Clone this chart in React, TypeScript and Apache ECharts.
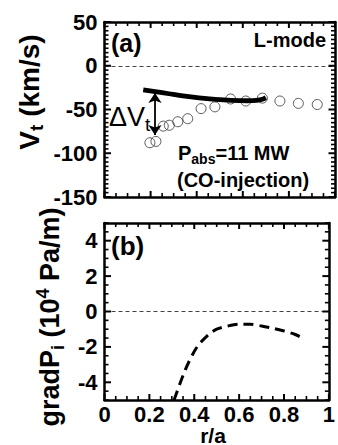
import React, { useEffect, useRef } from "react";
import * as echarts from "echarts";

// Panel (a): measured toroidal rotation (open circles) and the solid reference profile
const rMeasured = [0.197, 0.223, 0.255, 0.281, 0.318, 0.361, 0.419, 0.479, 0.547, 0.613, 0.685, 0.761, 0.841, 0.923];
const vtMeasured = [-88, -86.5, -69, -68, -64, -60.5, -49, -47, -38, -40.3, -37, -40.3, -43, -44.3];
const rSolid = [0.168, 0.22, 0.28, 0.34, 0.41, 0.48, 0.55, 0.62, 0.66, 0.685, 0.7];
const vtSolid = [-27.5, -29.5, -32, -34.5, -36.8, -38.5, -39.6, -40, -39.5, -38.3, -36.5];
// Delta V_t arrow between the solid profile and the inner data point
const arrowR = 0.219;
const arrowTop = -31;
const arrowBottom = -79;

// Panel (b): ion pressure gradient profile
const rGrad = [0.31, 0.36, 0.41, 0.46, 0.5, 0.55, 0.6, 0.65, 0.7, 0.75, 0.8, 0.85, 0.89];
const gradPi = [-5.0, -3.3, -2.05, -1.35, -1.0, -0.82, -0.72, -0.72, -0.82, -0.95, -1.1, -1.3, -1.55];

// Axis ranges and tick spacing (major / minor)
const R_MIN = 0, R_MAX = 1, R_MAJOR = 0.2, R_MINOR = 0.05;
const VT_MIN = -150, VT_MAX = 50, VT_MAJOR = 50, VT_MINOR = 5;
const GP_MIN = -5, GP_MAX = 5, GP_MAJOR = 2, GP_MINOR = 0.5;

const FONT = "Liberation Sans, Arial, Helvetica, sans-serif";

// list of [value, isMajor] for the mirrored frame ticks
function tickList(min: number, max: number, minor: number, major: number, origin: number) {
  const out: number[][] = [];
  const n = Math.round((max - min) / minor);
  for (let i = 0; i <= n; i++) {
    const v = +(min + i * minor).toFixed(6);
    const k = (v - origin) / major;
    out.push([v, Math.abs(k - Math.round(k)) < 1e-6 ? 1 : 0]);
  }
  return out;
}

export default function App() {
  const ref = useRef<HTMLDivElement>(null);

  useEffect(() => {
    document.body.style.margin = "0";
    if (!ref.current) return;
    const chart = echarts.init(ref.current, undefined, { renderer: "svg" });

    const frame = () => ({ show: true, onZero: false, lineStyle: { color: "#000", width: 2.5 } });
    const tickLabel = () => ({
      fontFamily: FONT,
      fontWeight: "bold" as const,
      fontSize: 22,
      lineHeight: 20,
      color: "#000",
    });

    const xAxisFor = (grid: number, pos: "top" | "bottom", labels: boolean) => ({
      type: "value" as const,
      gridIndex: grid,
      position: pos,
      min: R_MIN,
      max: R_MAX,
      interval: R_MAJOR,
      axisLine: frame(),
      splitLine: { show: false },
      axisTick: { show: false },
      axisLabel: labels ? { ...tickLabel(), margin: 4, formatter: (v: number) => String(v) } : { show: false },
    });

    const yAxisFor = (
      grid: number,
      pos: "left" | "right",
      labels: boolean,
      min: number,
      max: number,
      interval: number,
      labelStep: number
    ) => ({
      type: "value" as const,
      gridIndex: grid,
      position: pos,
      min,
      max,
      interval,
      axisLine: frame(),
      splitLine: { show: false },
      axisTick: { show: false },
      axisLabel: labels
        ? {
            ...tickLabel(),
            margin: 7,
            formatter: (v: number) => (Math.abs(v / labelStep - Math.round(v / labelStep)) < 1e-6 ? String(v) : ""),
          }
        : { show: false },
    });

    const zeroLine = () => ({
      silent: true,
      symbol: ["none", "none"],
      label: { show: false },
      lineStyle: { color: "#444", width: 1, type: [4, 3] as number[] },
      data: [{ yAxis: 0 }],
    });

    const rich = (main: number, sub: number, weight: "bold" | "normal") => ({
      m: { fontFamily: FONT, fontWeight: weight, fontSize: main, lineHeight: main + 6, fill: "#000" },
      s: {
        fontFamily: FONT,
        fontWeight: weight,
        fontSize: sub,
        lineHeight: sub,
        padding: [main + 6 - sub, 0, 0, 0],
        fill: "#000",
      },
      p: {
        fontFamily: FONT,
        fontWeight: weight,
        fontSize: sub,
        lineHeight: sub,
        padding: [0, 0, main + 6 - sub, 0],
        fill: "#000",
      },
    });

    const texts: any[] = [
      {
        type: "text",
        x: 29,
        y: 92,
        rotation: Math.PI / 2,
        style: { text: "{m|V}{s|t}{m| (km/s)}", rich: rich(28, 19, "bold"), align: "center", verticalAlign: "middle" },
      },
      {
        type: "text",
        x: 50,
        y: 317,
        rotation: Math.PI / 2,
        style: {
          text: "{m|gradP}{s|i}{m| (10}{p|4}{m| Pa/m)}",
          rich: rich(27, 18, "bold"),
          align: "center",
          verticalAlign: "middle",
        },
      },
      { type: "text", x: 111, y: 43, style: { text: "(a)", font: `bold 25px ${FONT}`, fill: "#000", verticalAlign: "middle" } },
      { type: "text", x: 111, y: 246, style: { text: "(b)", font: `bold 26px ${FONT}`, fill: "#000", verticalAlign: "middle" } },
      {
        type: "text",
        x: 326,
        y: 40,
        style: { text: "L-mode", font: `bold 20px ${FONT}`, fill: "#000", align: "right", verticalAlign: "middle" },
      },
      { type: "text", x: 109, y: 117, style: { text: "{m|ΔV}{s|t}", rich: rich(27, 19, "normal"), verticalAlign: "middle" } },
      {
        type: "text",
        x: 178,
        y: 153,
        style: { text: "{m|P}{s|abs}{m|=11 MW}", rich: rich(20, 14, "bold"), verticalAlign: "middle" },
      },
      {
        type: "text",
        x: 177,
        y: 180,
        style: { text: "(CO-injection)", font: `bold 20px ${FONT}`, fill: "#000", verticalAlign: "middle" },
      },
      {
        type: "text",
        x: 213,
        y: 435,
        style: { text: "r/a", font: `bold 21px ${FONT}`, lineHeight: 20, fill: "#000", align: "center", verticalAlign: "middle" },
      },
    ];

    chart.setOption({
      animation: false,
      grid: [
        { left: 104.5, top: 22, width: 230.5, height: 175 },
        { left: 104.5, top: 223, width: 230.5, height: 177 },
      ],
      xAxis: [xAxisFor(0, "bottom", false), xAxisFor(0, "top", false), xAxisFor(1, "bottom", true), xAxisFor(1, "top", false)],
      yAxis: [
        yAxisFor(0, "left", true, VT_MIN, VT_MAX, VT_MAJOR, VT_MAJOR),
        yAxisFor(0, "right", false, VT_MIN, VT_MAX, VT_MAJOR, VT_MAJOR),
        yAxisFor(1, "left", true, GP_MIN, GP_MAX, 1, GP_MAJOR),
        yAxisFor(1, "right", false, GP_MIN, GP_MAX, 1, GP_MAJOR),
      ],
      series: [
        {
          type: "line",
          xAxisIndex: 0,
          yAxisIndex: 0,
          data: rSolid.map((r, i) => [r, vtSolid[i]]),
          smooth: 0.3,
          showSymbol: false,
          lineStyle: { color: "#000", width: 4.8 },
          markLine: zeroLine(),
        },
        {
          type: "scatter",
          xAxisIndex: 0,
          yAxisIndex: 0,
          data: rMeasured.map((r, i) => [r, vtMeasured[i]]),
          symbol: "circle",
          symbolSize: 10,
          itemStyle: { color: "rgba(255,255,255,0)", borderColor: "#333", borderWidth: 1 },
          markLine: {
            silent: true,
            symbol: ["arrow", "arrow"],
            symbolSize: 10,
            label: { show: false },
            lineStyle: { color: "#000", width: 1.8, type: "solid" },
            data: [[{ coord: [arrowR, arrowTop] }, { coord: [arrowR, arrowBottom] }]],
          },
        },
        {
          type: "line",
          xAxisIndex: 2,
          yAxisIndex: 2,
          data: rGrad.map((r, i) => [r, gradPi[i]]),
          smooth: 0.3,
          showSymbol: false,
          lineStyle: { color: "#000", width: 3, type: [10, 6] },
          markLine: zeroLine(),
        },
      ],
    });

    // Inward frame ticks on all four edges, placed through the axes' own scales
    const ticks: any[] = [];
    const bar = (x: number, y: number, w: number, h: number) => ({
      type: "rect",
      silent: true,
      z: 100,
      shape: { x, y, width: w, height: h },
      style: { fill: "#000" },
    });
    const panels = [
      { xi: 0, yi: 0, yMin: VT_MIN, yMax: VT_MAX, yMinor: VT_MINOR, yMajor: VT_MAJOR },
      { xi: 2, yi: 2, yMin: GP_MIN, yMax: GP_MAX, yMinor: GP_MINOR, yMajor: GP_MAJOR },
    ];
    panels.forEach((p) => {
      const finder = { xAxisIndex: p.xi, yAxisIndex: p.yi };
      tickList(R_MIN, R_MAX, R_MINOR, R_MAJOR, R_MIN).forEach(([v, m]) => {
        const len = m ? 6 : 4;
        const w = m ? 2 : 1.6;
        const b = chart.convertToPixel(finder, [v, p.yMin]) as number[];
        const t = chart.convertToPixel(finder, [v, p.yMax]) as number[];
        ticks.push(bar(b[0] - w / 2, b[1] - len, w, len));
        ticks.push(bar(t[0] - w / 2, t[1], w, len));
      });
      tickList(p.yMin, p.yMax, p.yMinor, p.yMajor, 0).forEach(([v, m]) => {
        const len = m ? 6.5 : 4;
        const w = m ? 2 : 1.6;
        const l = chart.convertToPixel(finder, [R_MIN, v]) as number[];
        const r = chart.convertToPixel(finder, [R_MAX, v]) as number[];
        ticks.push(bar(l[0], l[1] - w / 2, len, w));
        ticks.push(bar(r[0] - len, r[1] - w / 2, len, w));
      });
    });

    chart.setOption({ graphic: [...texts, ...ticks] });

    return () => chart.dispose();
  }, []);

  return <div ref={ref} style={{ width: 338, height: 445 }} />;
}
